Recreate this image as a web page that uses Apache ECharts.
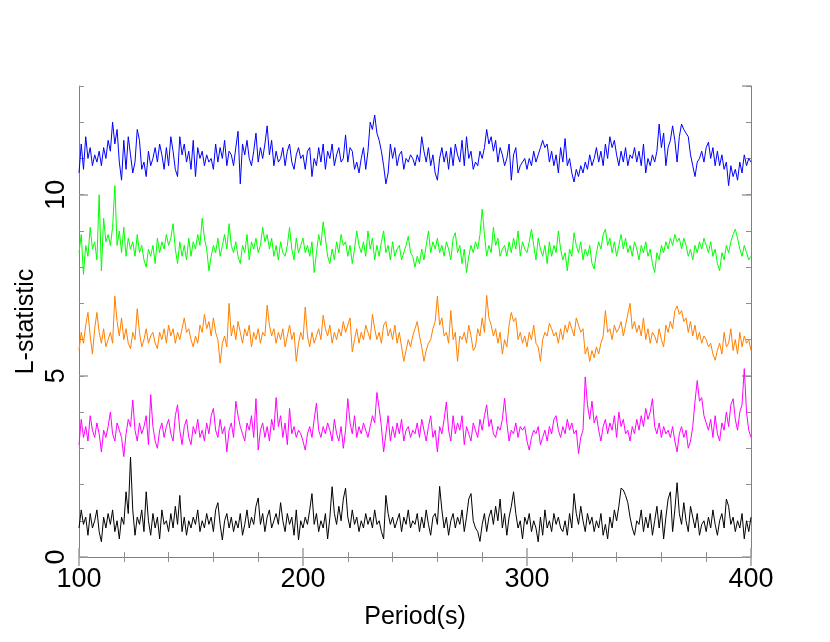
<!DOCTYPE html>
<html>
<head>
<meta charset="utf-8">
<script src="https://cdn.jsdelivr.net/npm/echarts@6/dist/echarts.min.js"></script>
<style>
html,body{margin:0;padding:0;background:#fff;}
#chart{width:830px;height:642px;}
</style>
</head>
<body>
<div id="chart"></div>
<script>
// Period grid: one sample per second from 100 s to 400 s
const periodStart = 100;
const xTicks = [100, 200, 300, 400];
const yTicks = [0, 5, 10];

const blueValues = [
10.6,11.4,10.7,11.6,11.0,11.3,10.8,11.1,10.9,11.2,
10.8,11.3,11.0,11.5,11.2,12.0,11.4,11.8,10.9,10.4,
11.5,10.7,11.6,11.1,10.6,10.9,11.8,11.5,10.7,10.9,
10.5,11.2,10.8,11.0,11.3,10.9,11.4,11.1,10.7,11.3,
10.8,11.6,11.2,10.7,10.5,11.6,11.1,11.4,10.9,11.2,
10.7,11.5,10.5,11.3,11.0,11.2,10.8,11.1,10.9,11.0,
10.7,11.4,10.9,11.3,11.0,11.5,10.8,11.2,11.1,10.8,
11.3,11.75,10.3,11.4,11.1,11.5,11.0,10.8,11.2,11.7,
10.9,11.3,11.0,11.4,11.9,11.1,11.5,10.8,11.2,10.9,
11.0,11.3,10.8,11.2,11.4,10.9,10.7,11.1,11.3,11.0,
11.1,10.7,11.2,11.3,10.5,11.0,10.8,11.3,10.9,11.4,
10.7,11.2,11.0,11.4,10.8,11.1,11.3,10.9,11.0,11.65,
10.9,11.3,11.2,10.7,10.9,10.6,11.0,11.3,10.7,11.2,
12.0,11.8,12.2,11.7,11.5,11.2,10.8,10.3,10.6,11.4,
11.0,11.3,10.8,11.1,11.2,10.7,11.0,10.9,11.1,11.0,
10.8,11.1,10.9,11.6,11.2,10.9,11.3,10.8,11.1,10.6,
10.4,11.0,11.3,10.9,11.2,10.7,11.3,10.8,11.4,11.1,
10.9,11.5,10.8,11.6,11.0,11.2,10.7,10.9,10.8,11.2,
11.0,11.3,11.8,11.4,11.6,11.2,11.5,10.9,11.3,11.1,
10.8,11.0,11.4,10.4,11.1,11.3,10.6,10.8,10.9,11.0,
10.7,11.0,10.8,11.2,10.9,11.1,11.3,11.5,11.3,11.4,
10.9,11.2,10.8,11.1,10.6,11.3,10.9,11.55,10.8,11.0,
10.6,10.35,10.7,10.5,10.8,10.6,10.9,10.7,11.1,10.8,
11.0,11.3,10.9,11.2,10.8,11.4,11.0,11.6,11.3,11.5,
11.1,10.8,11.2,10.9,11.3,10.8,11.1,11.0,11.3,10.9,
11.2,10.8,11.4,10.6,11.0,10.8,11.1,10.9,11.2,11.95,
11.3,11.7,10.8,11.3,11.5,11.9,11.5,10.9,11.6,11.95,
11.8,11.7,11.6,11.1,10.8,10.5,10.9,11.0,11.2,10.9,
11.3,11.45,11.0,11.3,10.8,11.2,10.8,11.1,10.7,10.9,
10.25,10.8,10.5,10.7,10.4,10.9,10.6,11.1,10.8,11.0,
10.9];

const greenValues = [
8.4,8.9,7.8,8.6,8.3,9.1,8.5,8.7,8.2,10.0,
7.9,9.35,8.7,8.9,8.6,9.1,10.25,8.6,9.0,8.4,
9.1,8.3,8.8,8.5,8.7,8.3,8.9,8.4,8.6,8.2,
8.0,8.5,8.3,8.6,8.1,8.8,8.4,8.7,8.5,8.9,
8.6,8.8,9.2,8.5,8.1,8.7,8.3,8.6,8.2,8.8,
8.3,8.7,8.5,8.9,8.6,9.35,8.8,8.5,7.9,8.3,
8.6,8.4,8.8,8.3,8.6,8.9,8.5,9.2,8.6,8.4,
8.7,8.3,8.1,8.6,8.4,8.9,8.2,8.7,8.5,8.8,
8.4,8.6,9.1,8.7,8.9,8.5,8.8,8.3,8.6,8.2,
8.7,8.4,8.3,8.6,9.1,8.5,8.2,8.8,8.4,8.6,
8.8,8.4,8.6,8.3,8.7,7.85,8.4,8.9,8.6,9.25,
8.8,8.3,8.1,8.5,8.2,8.7,8.4,8.9,8.6,8.7,
8.3,8.6,8.1,8.5,9.0,8.6,8.4,8.7,8.3,9.0,
8.5,8.8,8.2,8.6,8.3,8.7,9.0,8.4,8.6,8.2,
8.7,8.3,8.5,8.6,8.2,8.4,8.6,8.85,8.4,8.3,
8.0,8.3,8.1,8.5,8.2,8.6,9.0,8.4,8.7,8.5,
8.8,8.4,8.6,8.3,8.7,8.5,8.2,8.8,8.95,8.4,
8.6,8.1,8.5,7.85,8.3,8.6,8.4,8.7,8.5,8.9,
9.6,8.9,8.3,8.6,8.4,9.1,8.6,8.8,8.3,8.5,
8.6,8.3,8.7,8.4,8.8,8.5,9.0,8.3,8.7,8.5,
8.4,8.7,9.05,8.6,8.2,8.8,8.5,8.3,8.6,8.1,
8.7,8.3,8.6,8.4,9.0,8.5,8.2,8.4,7.9,8.5,
8.3,8.95,8.6,8.4,8.7,8.2,8.5,8.3,8.6,8.1,
7.95,8.4,8.7,8.5,8.9,9.05,8.6,8.8,8.4,8.7,
8.3,8.6,8.9,8.5,8.8,8.4,8.6,8.3,8.7,8.5,
8.2,8.6,8.4,8.7,8.3,8.5,8.1,7.85,8.4,8.2,
8.6,8.4,8.7,8.5,8.8,8.6,8.9,8.7,8.8,8.5,
8.8,8.6,8.3,8.5,8.2,8.6,8.4,8.7,8.5,8.8,
8.6,8.4,8.7,8.3,8.5,8.1,7.9,8.4,8.2,8.6,
8.4,8.7,8.9,9.05,8.8,8.5,8.3,8.6,8.4,8.2,
8.3];

const orangeValues = [
5.7,6.2,5.9,6.4,6.75,6.1,5.6,6.3,6.75,6.2,
5.9,6.3,5.8,6.0,6.2,5.9,7.2,6.5,6.1,6.6,
6.0,6.3,5.9,5.75,6.2,6.0,6.85,6.2,5.8,6.0,
6.3,5.9,6.1,6.2,5.9,5.75,6.2,6.0,6.3,5.9,
6.4,6.1,6.3,5.9,6.2,6.0,6.3,6.6,6.2,6.3,
6.0,5.8,6.1,5.9,6.4,6.2,6.7,6.3,6.5,6.1,
6.6,6.2,6.0,5.35,5.9,6.1,5.8,7.0,6.1,6.4,
6.0,6.5,6.2,5.9,6.3,6.1,6.4,5.8,6.2,6.0,
6.3,5.9,6.2,6.1,6.95,6.4,6.1,6.3,5.9,6.2,
6.0,6.3,5.8,6.1,6.4,6.0,6.2,5.4,5.9,6.2,
6.0,6.9,6.1,5.8,6.2,5.9,6.1,6.3,6.0,6.67,
6.3,6.1,6.4,5.9,6.2,6.0,6.3,6.1,6.5,6.2,
6.4,6.6,5.66,6.0,6.3,5.9,6.2,6.0,6.4,6.2,
6.0,6.7,6.3,6.0,6.2,5.9,6.4,6.5,6.1,6.3,
6.0,6.4,5.9,6.2,5.8,5.4,5.7,6.0,5.8,6.1,
6.3,6.5,6.1,5.8,5.4,5.7,5.9,6.0,6.3,6.5,
7.2,6.4,6.6,6.1,6.2,5.9,6.8,6.0,6.2,5.4,
6.1,6.0,6.2,5.9,6.4,6.1,5.7,5.8,6.3,6.1,
6.6,6.2,7.22,6.6,6.4,6.1,6.3,5.9,6.2,5.6,
6.0,5.8,6.4,6.75,6.5,6.6,6.0,6.2,5.9,6.1,
5.8,6.2,6.0,6.4,5.9,5.8,5.4,6.0,6.2,6.1,
6.45,6.3,6.1,6.2,5.9,6.3,6.0,6.4,6.2,6.5,
6.3,6.1,6.6,6.4,6.2,6.3,5.6,5.8,5.4,5.7,
5.5,5.8,5.6,5.9,6.1,6.8,6.2,6.3,6.0,6.4,
6.2,6.3,6.5,6.1,6.4,6.7,7.0,6.3,6.5,6.2,
6.4,6.1,6.6,6.0,6.3,5.9,6.2,6.1,5.9,6.3,
6.0,5.8,6.4,6.2,6.5,6.3,6.8,6.93,6.7,6.8,
6.5,6.6,6.2,6.5,6.1,6.4,6.0,6.2,5.9,6.1,
6.0,5.8,5.9,5.6,5.43,5.7,5.9,5.6,6.2,5.8,
5.9,6.3,5.7,6.0,5.6,6.2,5.8,6.1,5.9,6.0,
5.7];

const magentaValues = [
3.1,3.8,3.3,3.6,3.2,3.9,3.5,3.3,3.7,3.4,
2.9,3.5,3.3,3.6,4.0,3.4,3.2,3.7,3.5,3.3,
2.77,3.4,3.8,3.6,4.33,3.5,3.2,3.7,3.4,3.6,
3.9,3.1,4.48,3.6,3.2,3.0,3.5,3.7,3.3,3.6,
3.8,3.4,3.2,3.9,4.2,3.5,3.1,3.6,3.8,3.3,
3.1,3.6,3.4,3.8,3.3,3.5,3.2,3.7,3.4,3.9,
4.1,3.5,3.3,3.8,3.4,3.6,2.9,3.5,3.7,3.3,
4.3,3.9,3.6,3.4,3.2,3.7,3.5,3.9,3.3,4.37,
2.95,3.5,3.7,3.3,3.6,3.2,3.8,3.5,4.4,3.6,
3.9,3.3,3.7,3.1,4.1,3.4,3.6,3.3,3.5,3.4,
3.2,2.95,3.4,3.6,3.3,3.8,4.25,3.5,3.3,3.6,
3.4,3.7,3.5,3.2,3.8,3.4,3.2,3.6,3.0,3.5,
4.37,3.7,3.4,3.9,3.3,3.6,3.4,3.7,3.5,3.3,
3.6,3.9,3.7,4.54,4.1,3.6,2.9,3.4,3.9,3.2,
3.6,3.3,3.7,3.4,3.8,3.2,3.5,3.6,3.3,3.5,
3.4,3.7,3.3,3.8,3.5,3.2,3.6,3.9,3.3,3.5,
2.9,3.6,3.4,3.8,4.28,3.5,3.2,3.9,3.4,3.7,
3.5,3.9,3.1,3.6,3.4,3.2,3.7,3.5,3.3,3.8,
3.5,3.9,4.2,3.6,3.8,3.4,3.3,3.6,3.5,3.8,
4.38,3.7,3.2,3.5,3.4,3.7,3.3,3.6,3.5,3.6,
3.2,2.95,3.3,3.5,3.4,3.6,3.1,3.3,3.5,3.2,
3.6,3.4,3.8,3.9,3.5,3.3,3.6,3.4,3.8,3.5,
3.7,3.4,3.5,2.85,3.3,3.5,4.97,4.2,3.8,4.3,
3.7,3.9,3.5,3.2,3.6,3.8,3.4,3.7,3.5,3.9,
3.3,4.0,3.6,3.8,3.4,3.5,3.2,3.6,3.4,3.8,
3.5,3.9,3.6,4.1,3.8,4.0,4.37,3.6,3.4,3.7,
3.3,3.6,3.4,3.5,3.3,3.6,3.2,2.9,3.4,3.6,
3.3,3.5,3.0,3.2,3.6,4.3,4.87,4.3,4.4,3.9,
3.7,3.5,3.8,3.3,3.9,3.4,3.2,3.7,3.5,4.0,
3.6,4.2,4.37,3.8,3.5,4.0,4.2,5.2,4.0,3.5,
3.3];

const blackValues = [
0.8,1.3,0.9,1.1,0.6,1.2,0.8,1.0,1.3,0.7,
0.42,1.1,0.8,1.2,0.9,1.3,0.7,1.0,0.5,1.1,
0.9,1.8,1.2,2.76,1.3,0.6,1.1,0.9,1.3,0.7,
1.8,1.0,0.6,1.2,0.8,1.1,0.5,1.3,0.9,1.0,
0.7,1.2,0.8,1.4,0.9,1.7,0.7,1.1,0.6,1.0,
0.8,1.1,0.9,1.3,0.7,1.0,0.8,1.2,0.9,1.1,
0.7,1.3,1.5,0.9,0.47,1.0,1.2,0.8,1.1,0.7,
1.0,0.8,1.2,0.6,0.9,1.3,0.8,1.1,0.9,1.4,
1.63,0.9,1.2,0.7,1.1,1.3,0.8,1.0,1.2,0.9,
1.5,1.0,0.7,1.2,0.9,1.1,0.6,1.3,0.47,1.0,
0.8,1.1,0.9,1.3,1.75,0.9,1.2,0.7,1.0,0.8,
1.2,0.5,1.1,1.94,1.2,0.9,1.4,1.0,1.6,1.9,
1.1,0.8,1.3,0.9,1.1,0.7,1.0,0.8,1.2,0.9,
1.1,0.8,1.3,0.9,1.0,0.7,0.5,1.7,1.2,0.9,
1.1,0.8,1.0,1.2,0.7,1.1,0.9,1.3,0.8,1.0,
0.9,1.2,0.7,1.1,0.8,1.3,0.9,0.6,1.1,1.2,
0.9,1.95,1.3,0.8,1.1,0.6,1.0,1.2,0.8,1.1,
0.9,1.3,0.7,1.1,1.6,1.75,1.0,0.8,0.7,0.43,
0.9,1.2,0.7,1.1,1.3,0.9,1.4,1.0,1.6,0.8,
1.2,0.6,1.1,1.4,1.8,1.2,0.8,1.0,0.5,1.1,
0.9,1.2,0.7,1.0,0.8,0.42,1.1,0.6,1.3,0.8,
1.0,0.7,1.2,0.9,1.1,0.8,0.7,1.0,0.6,1.2,
0.8,1.75,1.2,0.9,1.4,1.0,0.7,1.2,0.9,1.1,
0.7,1.0,0.8,1.2,0.6,0.9,0.5,1.1,0.8,1.3,
1.0,1.4,1.9,1.85,1.7,1.5,1.1,0.8,0.6,1.0,
0.9,1.3,0.7,1.1,0.8,1.2,0.6,1.0,1.4,0.8,
1.3,0.5,1.1,1.6,1.8,0.7,1.3,2.05,1.2,0.9,
1.5,1.0,0.7,1.4,1.1,0.8,1.2,0.6,0.9,1.0,
0.7,1.1,0.8,1.3,0.9,0.6,1.0,1.2,0.8,1.6,
1.4,0.9,1.1,0.7,1.0,0.8,1.2,0.5,1.0,0.7,
1.1];

const seriesList = [
  {name: 'blue', color: '#0000ff', values: blueValues},
  {name: 'green', color: '#00ff00', values: greenValues},
  {name: 'orange', color: '#ff8000', values: orangeValues},
  {name: 'magenta', color: '#ff00ff', values: magentaValues},
  {name: 'black', color: '#000000', values: blackValues}
];

const FONT = "'Liberation Sans', Arial, sans-serif";
const AX = '#808080';

function pairs(vals) {
  return vals.map((v, i) => [periodStart + i, v]);
}

const chart = echarts.init(document.getElementById('chart'), null, {renderer: 'canvas'});

const xCommon = {
  type: 'value', min: xTicks[0], max: xTicks[xTicks.length - 1], interval: 100,
  splitLine: {show: false},
  axisLine: {show: true, lineStyle: {color: AX, width: 1}},
  axisTick: {show: true, inside: true, length: 9, lineStyle: {color: '#a0a0a0', width: 1.5}},
  minorTick: {show: true, splitNumber: 5, length: 5, lineStyle: {color: '#909090', width: 1}}
};
const yMajor = {
  type: 'value', min: 0, max: 13, interval: 5,
  splitLine: {show: false},
  axisLine: {show: true, lineStyle: {color: AX, width: 1}},
  axisTick: {show: true, inside: true, length: 9, lineStyle: {color: '#a0a0a0', width: 1.5}}
};
const yMinor = {
  type: 'value', min: 0, max: 13, interval: 1,
  splitLine: {show: false},
  axisLine: {show: false},
  axisLabel: {show: false},
  axisTick: {show: true, inside: true, length: 5, lineStyle: {color: '#909090', width: 1}}
};

const option = {
  animation: false,
  backgroundColor: '#ffffff',
  grid: {left: 79, right: 79, top: 86, bottom: 85, containLabel: false},
  xAxis: [
    Object.assign({}, xCommon, {
      position: 'bottom',
      name: 'Period(s)', nameLocation: 'middle', nameGap: 48, nameMoveOverlap: false,
      nameTextStyle: {fontFamily: FONT, fontSize: 25, color: '#000'},
      axisLabel: {show: true, margin: 9, fontFamily: FONT, fontSize: 27, color: '#000',
        formatter: v => xTicks.indexOf(v) >= 0 ? String(v) : ''}
    }),
    Object.assign({}, xCommon, {position: 'top', axisLabel: {show: false}})
  ],
  yAxis: [
    Object.assign({}, yMajor, {
      position: 'left',
      name: 'L-statistic', nameLocation: 'middle', nameGap: 40, nameRotate: 90, nameMoveOverlap: false,
      nameTextStyle: {fontFamily: FONT, fontSize: 25, color: '#000'},
      axisLabel: {show: true, rotate: 90, margin: 9, fontFamily: FONT, fontSize: 27, color: '#000',
        showMaxLabel: false,
        formatter: v => yTicks.indexOf(v) >= 0 ? String(v) : ''}
    }),
    Object.assign({}, yMajor, {position: 'right', axisLabel: {show: false}}),
    Object.assign({}, yMinor, {position: 'left'}),
    Object.assign({}, yMinor, {position: 'right'})
  ],
  series: seriesList.map(s => ({
    name: s.name, type: 'line', xAxisIndex: 0, yAxisIndex: 0,
    data: pairs(s.values), showSymbol: false, symbol: 'none',
    lineStyle: {color: s.color, width: 1}, itemStyle: {color: s.color},
    smooth: false
  }))
};
chart.setOption(option);
</script>
</body>
</html>
